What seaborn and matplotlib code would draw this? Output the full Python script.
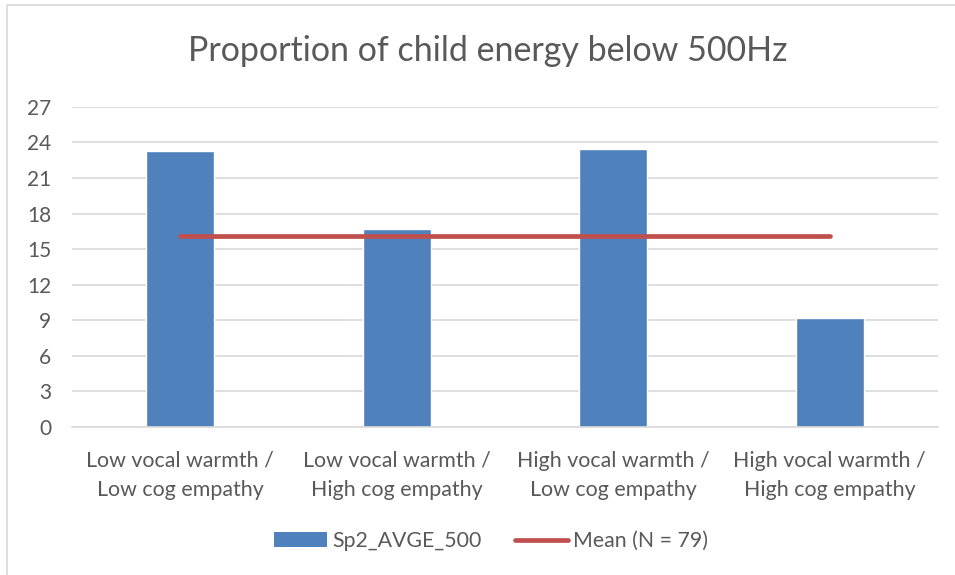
import matplotlib
matplotlib.use("Agg")
import matplotlib.pyplot as plt
import seaborn as sns
import pandas as pd
from matplotlib.patches import Patch, Rectangle
from matplotlib.lines import Line2D

# Chart data
categories = [
    "Low vocal warmth /\nLow cog empathy",
    "Low vocal warmth /\nHigh cog empathy",
    "High vocal warmth /\nLow cog empathy",
    "High vocal warmth /\nHigh cog empathy",
]
sp2_avge_500 = [23.3, 16.7, 23.4, 9.15]
mean_n79 = 16.1
y_ticks = [0, 3, 6, 9, 12, 15, 18, 21, 24, 27]

title = "Proportion of child energy below 500Hz"
bar_label = "Sp2_AVGE_500"
line_label = "Mean (N = 79)"

BAR_COLOR = "#4F81BD"
LINE_COLOR = "#C0504D"
TEXT_COLOR = "#595959"
GRID_COLOR = "#D9D9D9"

sns.set_theme(style="white")
plt.rcParams["font.family"] = ["Lato", "DejaVu Sans"]

W, H = 955, 575
fig = plt.figure(figsize=(W / 100, H / 100), dpi=100)
ax = fig.add_axes([72 / W, 1 - 427 / H, (938 - 72) / W, (427 - 106.8) / H])

df = pd.DataFrame({"category": categories, "value": sp2_avge_500})
sns.barplot(data=df, x="category", y="value", color=BAR_COLOR, width=0.314,
            saturation=1, ax=ax, zorder=3)

xpos = list(range(len(categories)))
ax.plot(xpos, [mean_n79] * len(categories), color=LINE_COLOR, lw=3.4,
        solid_capstyle="round", zorder=4)

ax.set_xlim(-0.5, len(categories) - 0.5)
ax.set_ylim(0, 27)
ax.set_yticks(y_ticks)
ax.set_xlabel("")
ax.set_ylabel("")
ax.grid(axis="y", color=GRID_COLOR, lw=1.2, zorder=0)
ax.grid(axis="x", visible=False)
for side in ["left", "right", "top"]:
    ax.spines[side].set_visible(False)
ax.spines["bottom"].set_color(GRID_COLOR)
ax.spines["bottom"].set_linewidth(1.2)
ax.spines["bottom"].set_zorder(5)
ax.tick_params(axis="y", length=0, pad=15, labelsize=15, labelcolor=TEXT_COLOR)
ax.tick_params(axis="x", length=0, pad=17, labelsize=15.4, labelcolor=TEXT_COLOR)
for lbl in ax.get_xticklabels():
    lbl.set_linespacing(1.6)

fig.text(488 / W, 1 - 51 / H, title, ha="center", va="center",
         fontsize=24.5, color=TEXT_COLOR, fontweight="normal")

handles = [
    Patch(facecolor=BAR_COLOR, edgecolor="none", label=bar_label),
    Line2D([0], [0], color=LINE_COLOR, lw=3.4, solid_capstyle="round", label=line_label),
]
fig.legend(handles=handles, loc="center", bbox_to_anchor=(491 / W, 1 - 541 / H),
           ncol=2, frameon=False, fontsize=15.3, labelcolor=TEXT_COLOR,
           handlelength=2.5, handleheight=0.66, handletextpad=0.25, columnspacing=1.55)

# chart area outline
fig.patches.append(Rectangle((7 / W, -0.1), 1.2, 1 - 5 / H + 0.1,
                             transform=fig.transFigure, fill=False,
                             edgecolor=GRID_COLOR, lw=1.2))

fig.savefig("out.png", dpi=100)
